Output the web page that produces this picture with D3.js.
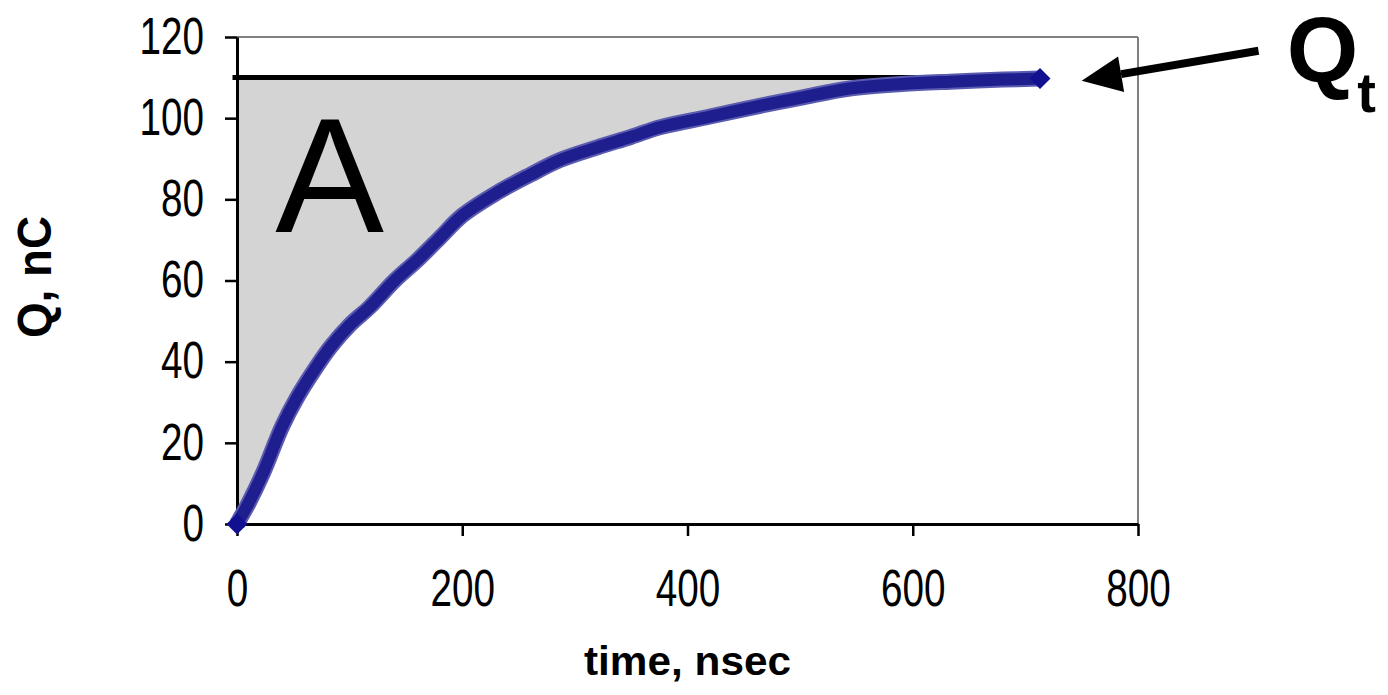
<!DOCTYPE html>
<html><head><meta charset="utf-8">
<script src="https://cdn.jsdelivr.net/npm/d3@7"></script>
<style>body{margin:0;background:#fff}svg{display:block}</style>
</head><body>
<script>
// ---- data ----
const timeNs   = [0, 3, 10, 23, 40, 53, 70, 83, 100, 118, 140, 160, 180, 200, 230, 260, 287, 320, 350, 376, 420, 460, 500, 544, 590, 633, 680, 713];
const chargeNC = [0, 1.5, 5, 12.5, 24, 31, 38.5, 43.6, 49, 53.5, 60, 65, 70.5, 76, 81.5, 86, 89.7, 92.8, 95.4, 97.8, 100.4, 102.8, 105, 107.3, 108.4, 109, 109.5, 109.8];
const xTicks = [0, 200, 400, 600, 800];
const yTicks = [0, 20, 40, 60, 80, 100, 120];
const qTotal = 110;
const xTitle = "time, nsec";
const yTitle = "Q, nC";
const areaLabel = "A";
const qtMain = "Q", qtSub = "t";

// annotation anchor points in data units
const areaLabelAt = [34, 72];
const arrowTip = [750, 109.2];
const arrowTail = [907, 116.6];
const qtLabelAt = [932, 108.9];
const qtLineFrom = -4;

const W = 1388, H = 695;
const svg = d3.select("body").append("svg").attr("width", W).attr("height", H);
const x = d3.scaleLinear().domain([0, 800]).range([237, 1138]);
const y = d3.scaleLinear().domain([0, 120]).range([524, 37]);
const pts = timeNs.map((t, i) => [t, chargeNC[i]]);
const numFont = "'Liberation Sans Narrow','Arial Narrow','Liberation Sans',Arial,sans-serif";
const boldFont = "'Liberation Sans',Arial,sans-serif";
const curve = d3.curveCatmullRom.alpha(0.5);

// shaded area A
svg.append("path").datum(pts)
  .attr("d", d3.area().x(d => x(d[0])).y0(y(qTotal)).y1(d => y(d[1])).curve(curve))
  .attr("fill", "#d4d4d4");

// plot border (top/right grey)
svg.append("line").attr("x1", x(0)).attr("x2", x(800)).attr("y1", y(120)).attr("y2", y(120))
  .attr("stroke", "#808080").attr("stroke-width", 2);
svg.append("line").attr("x1", x(800)).attr("x2", x(800)).attr("y1", y(120)).attr("y2", y(0))
  .attr("stroke", "#808080").attr("stroke-width", 2);

// Qt horizontal line
svg.append("line").attr("x1", x(qtLineFrom)).attr("x2", x(timeNs[timeNs.length - 1]))
  .attr("y1", y(qTotal)).attr("y2", y(qTotal))
  .attr("stroke", "#000").attr("stroke-width", 5);

// axes
const yAxis = svg.append("g").attr("transform", `translate(${x(0)},0)`)
  .call(d3.axisLeft(y).tickValues(yTicks).tickSize(12).tickPadding(21).tickSizeOuter(0));
const xAxis = svg.append("g").attr("transform", `translate(0,${y(0)})`)
  .call(d3.axisBottom(x).tickValues(xTicks).tickSize(12).tickPadding(34).tickSizeOuter(0));
[yAxis, xAxis].forEach(g => {
  g.select(".domain").attr("stroke", "#000").attr("stroke-width", 3);
  g.selectAll(".tick line").attr("stroke", "#000").attr("stroke-width", 2.5);
  g.selectAll(".tick text")
    .attr("font-family", numFont).attr("font-size", 51).attr("fill", "#000")
    .attr("textLength", d => String(d).length * 21.5).attr("lengthAdjust", "spacingAndGlyphs");
});

// curve
const line = d3.line().x(d => x(d[0])).y(d => y(d[1])).curve(curve);
svg.append("path").datum(pts).attr("d", line).attr("fill", "none")
  .attr("stroke", "#5a5ab0").attr("stroke-width", 16).attr("stroke-linejoin", "round");
svg.append("path").datum(pts).attr("d", line).attr("fill", "none")
  .attr("stroke", "#1e1e8e").attr("stroke-width", 12).attr("stroke-linejoin", "round");
// end markers (diamonds)
const diamond = d3.symbol(d3.symbolSquare, 220)();
[pts[0], pts[pts.length - 1]].forEach(p => {
  svg.append("path").attr("d", diamond)
    .attr("transform", `translate(${x(p[0])},${y(p[1])}) rotate(45)`)
    .attr("fill", "#101090");
});

// label A
svg.append("text").attr("x", x(areaLabelAt[0])).attr("y", y(areaLabelAt[1]))
  .attr("font-family", boldFont).attr("font-size", 163).attr("fill", "#000").text(areaLabel);

// arrow
const tx = x(arrowTip[0]), ty = y(arrowTip[1]), sx = x(arrowTail[0]), sy = y(arrowTail[1]);
const ang = Math.atan2(sy - ty, sx - tx);
const hl = 40, hw = 18;
const bx = tx + hl * Math.cos(ang), by = ty + hl * Math.sin(ang);
svg.append("line").attr("x1", sx).attr("y1", sy).attr("x2", bx).attr("y2", by)
  .attr("stroke", "#000").attr("stroke-width", 8);
svg.append("path").attr("d", d3.line()([
  [tx, ty],
  [bx + hw * Math.sin(ang), by - hw * Math.cos(ang)],
  [bx - hw * Math.sin(ang), by + hw * Math.cos(ang)]
]) + "Z").attr("fill", "#000");

// Qt label
const qt = svg.append("text").attr("x", x(qtLabelAt[0])).attr("y", y(qtLabelAt[1]))
  .attr("font-family", boldFont).attr("font-weight", "bold").attr("font-size", 92).attr("fill", "#000");
qt.append("tspan").text(qtMain);
qt.append("tspan").attr("dy", 30).attr("dx", -1).attr("font-size", 56).text(qtSub);

// axis titles
svg.append("text").attr("x", (x(0) + x(800)) / 2).attr("y", 675).attr("text-anchor", "middle")
  .attr("font-family", boldFont).attr("font-weight", "bold").attr("font-size", 40)
  .attr("textLength", 207).attr("lengthAdjust", "spacingAndGlyphs").text(xTitle);
svg.append("text").attr("transform", `translate(51,277) rotate(-90)`).attr("text-anchor", "middle")
  .attr("font-family", boldFont).attr("font-weight", "bold").attr("font-size", 48)
  .attr("textLength", 122).attr("lengthAdjust", "spacingAndGlyphs").text(yTitle);
</script>
</body></html>
